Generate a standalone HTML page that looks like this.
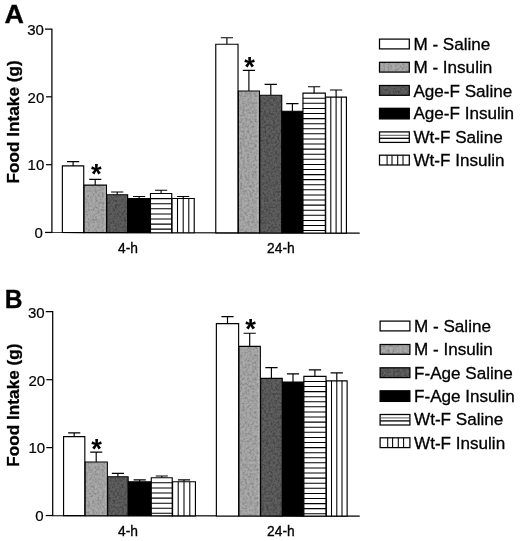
<!DOCTYPE html>
<html><head><meta charset="utf-8"><title>Food Intake</title>
<style>
html,body{margin:0;padding:0;background:#fff;}
svg{display:block;font-family:"Liberation Sans",Arial,sans-serif;fill:#000;}
text{stroke:#000;stroke-width:0.3px;}
</style></head>
<body>
<svg width="520" height="541" viewBox="0 0 520 541">
<defs>
<filter id="nl" x="0" y="0" width="100%" height="100%" color-interpolation-filters="sRGB">
<feTurbulence type="fractalNoise" baseFrequency="0.42" numOctaves="2" seed="4" result="t"/>
<feColorMatrix in="t" type="matrix" values="0 0 0 0 0  0 0 0 0 0  0 0 0 0 0  0.5 0 0 0 -0.2" result="a"/>
<feComposite in="a" in2="SourceGraphic" operator="in"/>
</filter>
<filter id="nd" x="0" y="0" width="100%" height="100%" color-interpolation-filters="sRGB">
<feTurbulence type="fractalNoise" baseFrequency="0.45" numOctaves="2" seed="9" result="t"/>
<feColorMatrix in="t" type="matrix" values="0 0 0 0 0  0 0 0 0 0  0 0 0 0 0  0.8 0 0 0 -0.32" result="a"/>
<feComposite in="a" in2="SourceGraphic" operator="in"/>
</filter>
</defs>
<rect width="520" height="541" fill="#fff"/>
<path d="M45 29.0H51.9V232.50L359.7 233.1" fill="none" stroke="#000" stroke-width="1.25"/>
<path d="M45 232.45H51.9" stroke="#000" stroke-width="1.25"/>
<path d="M46.0 164.7H51.9" stroke="#000" stroke-width="1.2"/>
<path d="M46.0 96.8H51.9" stroke="#000" stroke-width="1.2"/>
<text x="42.9" y="238.0" text-anchor="end" font-size="15" style="stroke-width:0.2px">0</text>
<text x="44.3" y="170.4" text-anchor="end" font-size="15" style="stroke-width:0.2px">10</text>
<text x="44.3" y="102.7" text-anchor="end" font-size="15" style="stroke-width:0.2px">20</text>
<text x="43.9" y="35.1" text-anchor="end" font-size="15" style="stroke-width:0.2px">30</text>
<path d="M67.0 161.6H79.2M73.1 161.6V165.9" stroke="#000" stroke-width="1.15" fill="none"/>
<path d="M62.37 232.52V165.9H83.73V232.56Z" fill="#fff" stroke="#000" stroke-width="1.15"/>
<path d="M89.2 179.4H101.3M95.2 179.4V185.1" stroke="#000" stroke-width="1.15" fill="none"/>
<path d="M84.07 232.56V185.1H106.43V232.61Z" fill="#a9a9a9" stroke="#000" stroke-width="1.15"/>
<rect x="84.60" y="185.7" width="21.30" height="46.3" fill="#000" filter="url(#nl)"/>
<rect x="104.30" y="185.7" width="1.6" height="46.3" fill="#fff" opacity="0.22"/>
<path d="M111.1 192.0H123.3M117.2 192.0V194.7" stroke="#000" stroke-width="1.15" fill="none"/>
<path d="M106.77 232.61V194.7H127.63V232.65Z" fill="#5f5f5f" stroke="#000" stroke-width="1.15"/>
<rect x="107.30" y="195.3" width="19.80" height="36.7" fill="#000" filter="url(#nd)"/>
<path d="M133.0 196.5H145.2M139.1 196.5V198.5" stroke="#000" stroke-width="1.15" fill="none"/>
<path d="M127.97 232.65V198.5H150.13V232.69Z" fill="#000" stroke="#000" stroke-width="1.15"/>
<path d="M155.0 190.2H167.2M161.1 190.2V193.5" stroke="#000" stroke-width="1.15" fill="none"/>
<path d="M150.47 232.69V193.5H171.73V232.73Z" fill="#fff" stroke="#000" stroke-width="1.15"/>
<path d="M150.3 198.6H171.9M150.3 203.7H171.9M150.3 208.8H171.9M150.3 213.9H171.9M150.3 219.0H171.9M150.3 224.1H171.9M150.3 229.1H171.9" stroke="#000" stroke-width="1.05"/>
<path d="M177.1 196.5H189.2M183.2 196.5V198.5" stroke="#000" stroke-width="1.15" fill="none"/>
<path d="M172.07 232.73V198.5H194.23V232.78Z" fill="#fff" stroke="#000" stroke-width="1.15"/>
<path d="M177.5 198.5V232.8M183.2 198.5V232.8M188.8 198.5V232.8" stroke="#000" stroke-width="1.05"/>
<path d="M220.8 37.7H233.0M226.9 37.7V44.2" stroke="#000" stroke-width="1.15" fill="none"/>
<path d="M215.77 232.82V44.2H238.03V232.86Z" fill="#fff" stroke="#000" stroke-width="1.15"/>
<path d="M242.8 70.3H255.0M248.9 70.3V91.0" stroke="#000" stroke-width="1.15" fill="none"/>
<path d="M238.37 232.86V91.0H259.43V232.90Z" fill="#a9a9a9" stroke="#000" stroke-width="1.15"/>
<rect x="238.90" y="91.6" width="20.00" height="140.7" fill="#000" filter="url(#nl)"/>
<rect x="257.30" y="91.6" width="1.6" height="140.7" fill="#fff" opacity="0.22"/>
<path d="M264.6 84.4H276.9M270.8 84.4V95.2" stroke="#000" stroke-width="1.15" fill="none"/>
<path d="M259.77 232.90V95.2H281.73V232.95Z" fill="#5f5f5f" stroke="#000" stroke-width="1.15"/>
<rect x="260.30" y="95.8" width="20.90" height="136.5" fill="#000" filter="url(#nd)"/>
<path d="M286.2 103.6H298.5M292.4 103.6V111.2" stroke="#000" stroke-width="1.15" fill="none"/>
<path d="M282.07 232.95V111.2H302.63V232.99Z" fill="#000" stroke="#000" stroke-width="1.15"/>
<path d="M308.0 86.7H320.2M314.1 86.7V93.1" stroke="#000" stroke-width="1.15" fill="none"/>
<path d="M302.97 232.99V93.1H325.33V233.03Z" fill="#fff" stroke="#000" stroke-width="1.15"/>
<path d="M302.8 98.2H325.5M302.8 103.3H325.5M302.8 108.4H325.5M302.8 113.5H325.5M302.8 118.6H325.5M302.8 123.7H325.5M302.8 128.7H325.5M302.8 133.8H325.5M302.8 138.9H325.5M302.8 144.0H325.5M302.8 149.1H325.5M302.8 154.2H325.5M302.8 159.3H325.5M302.8 164.4H325.5M302.8 169.5H325.5M302.8 174.6H325.5M302.8 179.6H325.5M302.8 184.7H325.5M302.8 189.8H325.5M302.8 194.9H325.5M302.8 200.0H325.5M302.8 205.1H325.5M302.8 210.2H325.5M302.8 215.3H325.5M302.8 220.4H325.5M302.8 225.5H325.5M302.8 230.5H325.5" stroke="#000" stroke-width="1.05"/>
<path d="M329.9 90.0H342.2M336.1 90.0V97.1" stroke="#000" stroke-width="1.15" fill="none"/>
<path d="M325.67 233.03V97.1H346.43V233.07Z" fill="#fff" stroke="#000" stroke-width="1.15"/>
<path d="M330.8 97.1V233.1M336.1 97.1V233.1M341.3 97.1V233.1" stroke="#000" stroke-width="1.05"/>
<path d="M45.8 311.7H52.699999999999996V515.60L359.7 516.2" fill="none" stroke="#000" stroke-width="1.25"/>
<path d="M45.8 515.55H52.699999999999996" stroke="#000" stroke-width="1.25"/>
<path d="M46.3 447.6H52.699999999999996" stroke="#000" stroke-width="1.2"/>
<path d="M46.3 379.7H52.699999999999996" stroke="#000" stroke-width="1.2"/>
<text x="43.7" y="521.1" text-anchor="end" font-size="15" style="stroke-width:0.2px">0</text>
<text x="45.1" y="453.3" text-anchor="end" font-size="15" style="stroke-width:0.2px">10</text>
<text x="45.1" y="385.6" text-anchor="end" font-size="15" style="stroke-width:0.2px">20</text>
<text x="44.7" y="317.8" text-anchor="end" font-size="15" style="stroke-width:0.2px">30</text>
<path d="M68.1 432.9H80.3M74.2 432.9V436.6" stroke="#000" stroke-width="1.15" fill="none"/>
<path d="M63.57 515.62V436.6H84.83V515.66Z" fill="#fff" stroke="#000" stroke-width="1.15"/>
<path d="M90.2 452.1H102.3M96.2 452.1V462.0" stroke="#000" stroke-width="1.15" fill="none"/>
<path d="M85.17 515.66V462.0H107.33V515.71Z" fill="#a9a9a9" stroke="#000" stroke-width="1.15"/>
<rect x="85.70" y="462.6" width="21.10" height="52.5" fill="#000" filter="url(#nl)"/>
<rect x="105.20" y="462.6" width="1.6" height="52.5" fill="#fff" opacity="0.22"/>
<path d="M111.8 473.3H124.0M117.9 473.3V476.7" stroke="#000" stroke-width="1.15" fill="none"/>
<path d="M107.67 515.71V476.7H128.13V515.75Z" fill="#5f5f5f" stroke="#000" stroke-width="1.15"/>
<rect x="108.20" y="477.3" width="19.40" height="37.8" fill="#000" filter="url(#nd)"/>
<path d="M133.6 479.8H145.8M139.7 479.8V481.7" stroke="#000" stroke-width="1.15" fill="none"/>
<path d="M128.47 515.75V481.7H150.93V515.79Z" fill="#000" stroke="#000" stroke-width="1.15"/>
<path d="M155.7 476.0H167.8M161.8 476.0V477.7" stroke="#000" stroke-width="1.15" fill="none"/>
<path d="M151.27 515.79V477.7H172.23V515.83Z" fill="#fff" stroke="#000" stroke-width="1.15"/>
<path d="M151.1 482.8H172.4M151.1 487.9H172.4M151.1 493.0H172.4M151.1 498.1H172.4M151.1 503.2H172.4M151.1 508.2H172.4M151.1 513.3H172.4" stroke="#000" stroke-width="1.05"/>
<path d="M177.9 479.8H190.1M184.0 479.8V481.7" stroke="#000" stroke-width="1.15" fill="none"/>
<path d="M172.57 515.83V481.7H195.43V515.88Z" fill="#fff" stroke="#000" stroke-width="1.15"/>
<path d="M178.2 481.7V515.9M184.0 481.7V515.9M189.8 481.7V515.9" stroke="#000" stroke-width="1.05"/>
<path d="M221.4 316.6H233.6M227.5 316.6V323.6" stroke="#000" stroke-width="1.15" fill="none"/>
<path d="M216.37 515.92V323.6H238.63V515.96Z" fill="#fff" stroke="#000" stroke-width="1.15"/>
<path d="M243.6 333.2H255.8M249.7 333.2V346.3" stroke="#000" stroke-width="1.15" fill="none"/>
<path d="M238.97 515.96V346.3H260.33V516.01Z" fill="#a9a9a9" stroke="#000" stroke-width="1.15"/>
<rect x="239.50" y="346.9" width="20.30" height="168.5" fill="#000" filter="url(#nl)"/>
<rect x="258.20" y="346.9" width="1.6" height="168.5" fill="#fff" opacity="0.22"/>
<path d="M265.3 367.6H277.6M271.4 367.6V378.4" stroke="#000" stroke-width="1.15" fill="none"/>
<path d="M260.67 516.01V378.4H282.23V516.05Z" fill="#5f5f5f" stroke="#000" stroke-width="1.15"/>
<rect x="261.20" y="379.0" width="20.50" height="136.4" fill="#000" filter="url(#nd)"/>
<path d="M286.9 373.9H299.1M293.0 373.9V382.0" stroke="#000" stroke-width="1.15" fill="none"/>
<path d="M282.57 516.05V382.0H303.53V516.09Z" fill="#000" stroke="#000" stroke-width="1.15"/>
<path d="M308.8 369.9H321.1M314.9 369.9V376.3" stroke="#000" stroke-width="1.15" fill="none"/>
<path d="M303.87 516.09V376.3H326.03V516.13Z" fill="#fff" stroke="#000" stroke-width="1.15"/>
<path d="M303.7 381.4H326.2M303.7 386.5H326.2M303.7 391.6H326.2M303.7 396.7H326.2M303.7 401.8H326.2M303.7 406.8H326.2M303.7 411.9H326.2M303.7 417.0H326.2M303.7 422.1H326.2M303.7 427.2H326.2M303.7 432.3H326.2M303.7 437.4H326.2M303.7 442.5H326.2M303.7 447.6H326.2M303.7 452.7H326.2M303.7 457.7H326.2M303.7 462.8H326.2M303.7 467.9H326.2M303.7 473.0H326.2M303.7 478.1H326.2M303.7 483.2H326.2M303.7 488.3H326.2M303.7 493.4H326.2M303.7 498.5H326.2M303.7 503.6H326.2M303.7 508.6H326.2M303.7 513.7H326.2" stroke="#000" stroke-width="1.05"/>
<path d="M330.6 372.8H342.9M336.8 372.8V380.8" stroke="#000" stroke-width="1.15" fill="none"/>
<path d="M326.37 516.13V380.8H347.13V516.18Z" fill="#fff" stroke="#000" stroke-width="1.15"/>
<path d="M331.5 380.8V516.2M336.8 380.8V516.2M342.0 380.8V516.2" stroke="#000" stroke-width="1.05"/>
<rect x="379.5" y="39.1" width="29.8" height="9.8" fill="#fff" stroke="#000" stroke-width="1.25"/>
<text x="413.4" y="50.0" font-size="17.1">M - Saline</text>
<rect x="379.5" y="62.3" width="29.8" height="9.8" fill="#a9a9a9" stroke="#000" stroke-width="1.25"/>
<rect x="380.1" y="62.9" width="28.6" height="8.6" fill="#000" filter="url(#nl)"/>
<text x="413.4" y="73.2" font-size="17.1">M - Insulin</text>
<rect x="379.5" y="85.5" width="29.8" height="9.8" fill="#5f5f5f" stroke="#000" stroke-width="1.25"/>
<rect x="380.1" y="86.1" width="28.6" height="8.6" fill="#000" filter="url(#nd)"/>
<text x="413.4" y="96.5" font-size="17.1">Age-F Saline</text>
<rect x="379.5" y="108.3" width="29.8" height="10.6" fill="#000" stroke="#000" stroke-width="1.25"/>
<text x="413.4" y="119.2" font-size="17.1">Age-F Insulin</text>
<rect x="379.5" y="131.9" width="29.8" height="10.5" fill="#fff" stroke="#000" stroke-width="1.25"/>
<path d="M379.5 135.3H409.3" stroke="#444" stroke-width="0.9"/>
<path d="M379.5 138.3H409.3" stroke="#000" stroke-width="1.3"/>
<text x="413.4" y="142.8" font-size="17.1">Wt-F Saline</text>
<rect x="379.5" y="155.2" width="29.8" height="9.8" fill="#fff" stroke="#000" stroke-width="1.25"/>
<path d="M387.1 155.2V165.0M392.0 155.2V165.0M397.7 155.2V165.0M403.0 155.2V165.0" stroke="#000" stroke-width="1.05"/>
<text x="413.4" y="166.1" font-size="17.1">Wt-F Insulin</text>
<rect x="380.1" y="321.1" width="29.8" height="9.8" fill="#fff" stroke="#000" stroke-width="1.25"/>
<text x="414.0" y="332.0" font-size="17.1">M - Saline</text>
<rect x="380.1" y="344.5" width="29.8" height="9.8" fill="#a9a9a9" stroke="#000" stroke-width="1.25"/>
<rect x="380.7" y="345.1" width="28.6" height="8.6" fill="#000" filter="url(#nl)"/>
<text x="414.0" y="355.4" font-size="17.1">M - Insulin</text>
<rect x="380.1" y="367.8" width="29.8" height="9.8" fill="#5f5f5f" stroke="#000" stroke-width="1.25"/>
<rect x="380.7" y="368.4" width="28.6" height="8.6" fill="#000" filter="url(#nd)"/>
<text x="414.0" y="378.7" font-size="17.1">F-Age Saline</text>
<rect x="380.1" y="390.8" width="29.8" height="10.6" fill="#000" stroke="#000" stroke-width="1.25"/>
<text x="414.0" y="401.7" font-size="17.1">F-Age Insulin</text>
<rect x="380.1" y="414.5" width="29.8" height="10.5" fill="#fff" stroke="#000" stroke-width="1.25"/>
<path d="M380.1 417.9H409.9" stroke="#444" stroke-width="0.9"/>
<path d="M380.1 420.9H409.9" stroke="#000" stroke-width="1.3"/>
<text x="414.0" y="425.4" font-size="17.1">Wt-F Saline</text>
<rect x="380.1" y="437.8" width="29.8" height="9.8" fill="#fff" stroke="#000" stroke-width="1.25"/>
<path d="M387.7 437.8V447.6M392.6 437.8V447.6M398.3 437.8V447.6M403.6 437.8V447.6" stroke="#000" stroke-width="1.05"/>
<text x="414.0" y="448.7" font-size="17.1">Wt-F Insulin</text>
<text transform="translate(4.5 22.8) scale(1.06 1)" font-size="25.4" font-weight="bold">A</text>
<text transform="translate(4.8 307.8) scale(0.97 1)" font-size="25.4" font-weight="bold">B</text>
<text transform="translate(18.6 121.9) rotate(-90)" text-anchor="middle" font-size="17.2" font-weight="bold">Food Intake (g)</text>
<text transform="translate(19.2 405.1) rotate(-90)" text-anchor="middle" font-size="17.2" font-weight="bold">Food Intake (g)</text>
<text x="128" y="253.1" text-anchor="middle" font-size="13.8">4-h</text>
<text x="280.9" y="253.1" text-anchor="middle" font-size="13.8">24-h</text>
<text x="128" y="536.1" text-anchor="middle" font-size="13.8">4-h</text>
<text x="280.9" y="536.1" text-anchor="middle" font-size="13.8">24-h</text>
<text x="96.3" y="182.9" text-anchor="middle" font-size="27.4" font-weight="bold" style="stroke:none">*</text>
<text x="249.7" y="76.0" text-anchor="middle" font-size="27.4" font-weight="bold" style="stroke:none">*</text>
<text x="96.7" y="457.9" text-anchor="middle" font-size="27.4" font-weight="bold" style="stroke:none">*</text>
<text x="250.5" y="337.9" text-anchor="middle" font-size="27.4" font-weight="bold" style="stroke:none">*</text>
</svg>
</body></html>
